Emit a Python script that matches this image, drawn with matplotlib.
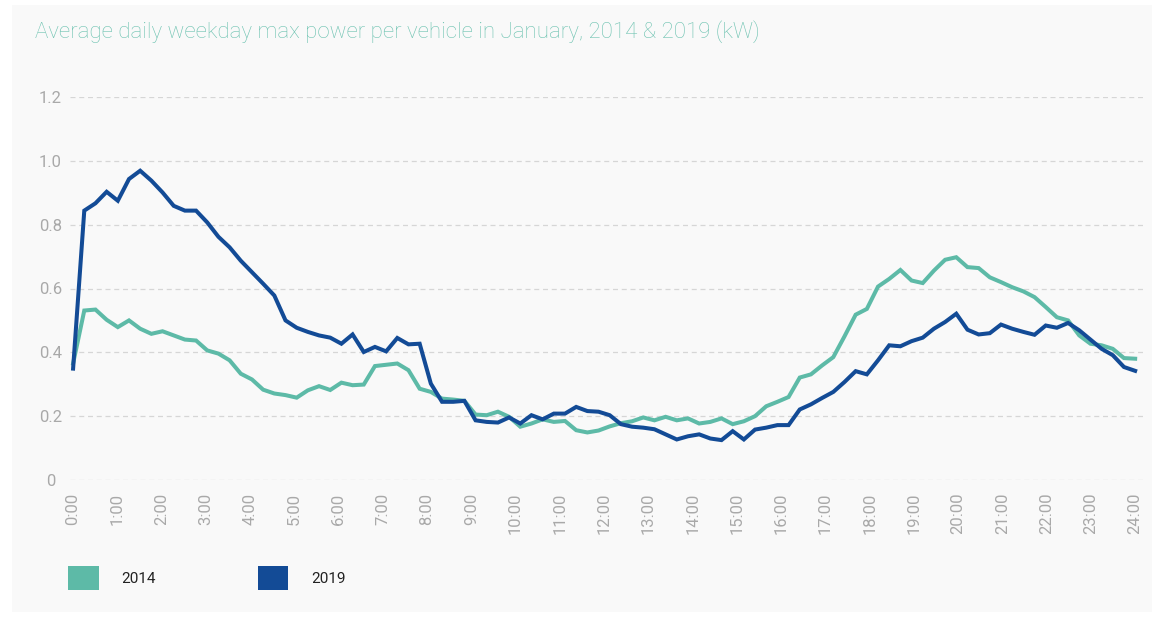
import numpy as np
import matplotlib
matplotlib.use('Agg')
from matplotlib import pyplot as plt
from matplotlib.patches import Patch, Rectangle

title = 'Average daily weekday max power per vehicle in January, 2014 & 2019 (kW)'
hour_labels = ['%d:00' % h for h in range(25)]
y_ticks = [0, 0.2, 0.4, 0.6, 0.8, 1.0, 1.2]
y_tick_labels = ['0', '0.2', '0.4', '0.6', '0.8', '1.0', '1.2']

# 96 readings across the day
kw_2014 = [
    0.365, 0.531, 0.534, 0.502, 0.479, 0.500, 0.474, 0.458, 0.466, 0.453,
    0.440, 0.437, 0.406, 0.396, 0.375, 0.333, 0.315, 0.283, 0.271, 0.266,
    0.258, 0.281, 0.294, 0.282, 0.305, 0.297, 0.299, 0.357, 0.361, 0.365,
    0.344, 0.286, 0.276, 0.255, 0.252, 0.248, 0.205, 0.203, 0.214, 0.198,
    0.167, 0.177, 0.190, 0.182, 0.185, 0.156, 0.149, 0.155, 0.168, 0.178,
    0.184, 0.196, 0.187, 0.198, 0.187, 0.193, 0.177, 0.182, 0.193, 0.175,
    0.184, 0.200, 0.231, 0.245, 0.260, 0.321, 0.331, 0.359, 0.385, 0.450,
    0.518, 0.536, 0.606, 0.630, 0.658, 0.625, 0.617, 0.656, 0.690, 0.698,
    0.667, 0.664, 0.635, 0.620, 0.604, 0.591, 0.573, 0.542, 0.510, 0.500,
    0.453, 0.427, 0.422, 0.411, 0.382, 0.380,
]
kw_2019 = [
    0.349, 0.844, 0.867, 0.903, 0.875, 0.943, 0.969, 0.938, 0.901, 0.859,
    0.844, 0.844, 0.807, 0.762, 0.729, 0.687, 0.651, 0.615, 0.578, 0.500,
    0.477, 0.464, 0.453, 0.446, 0.427, 0.456, 0.401, 0.417, 0.403, 0.445,
    0.425, 0.427, 0.302, 0.245, 0.245, 0.248, 0.187, 0.182, 0.180, 0.196,
    0.177, 0.203, 0.190, 0.208, 0.208, 0.229, 0.216, 0.214, 0.203, 0.175,
    0.167, 0.164, 0.159, 0.143, 0.127, 0.137, 0.143, 0.130, 0.125, 0.153,
    0.127, 0.158, 0.164, 0.172, 0.172, 0.221, 0.237, 0.257, 0.276, 0.307,
    0.341, 0.331, 0.375, 0.422, 0.419, 0.435, 0.446, 0.474, 0.495, 0.521,
    0.471, 0.456, 0.460, 0.487, 0.474, 0.464, 0.455, 0.484, 0.477, 0.492,
    0.469, 0.440, 0.411, 0.391, 0.354, 0.342,
]

green = '#5dbaa7'
blue = '#134b96'
grey = '#a9a9a9'

fig = plt.figure(figsize=(11.57, 6.17), dpi=100, facecolor='white')
fig.add_artist(Rectangle((12/1157, 5/617), 1140/1157, 607/617, transform=fig.transFigure,
                         facecolor='#f9f9f9', edgecolor='none', zorder=-10))

ax = fig.add_axes([70/1157, (617-480)/617, 1074/1157, 383/617])
ax.set_facecolor('none')

x = np.linspace(0, 24, len(kw_2014))
ax.plot(x, kw_2014, color=green, linewidth=2.9, solid_joinstyle='miter', zorder=3)
ax.plot(x, kw_2019, color=blue, linewidth=2.9, solid_joinstyle='miter', zorder=4)

ax.set_xlim(-0.07, 24.2)
ax.set_ylim(0, 1.2)
ax.set_yticks(y_ticks)
ax.set_yticklabels(y_tick_labels)
ax.set_xticks(range(25))
ax.set_xticklabels(hour_labels, rotation=90)

for s in ax.spines.values():
    s.set_visible(False)
ax.tick_params(length=0)
ax.tick_params(axis='y', pad=14, labelsize=12, labelcolor=grey)
ax.tick_params(axis='x', pad=9, labelsize=12, labelcolor=grey)
for t in ax.get_yticklabels():
    t.set_horizontalalignment('center')
    t.set_fontfamily('Roboto')
for t in ax.get_xticklabels():
    t.set_fontfamily('Roboto')
ax.grid(axis='y', color='#d6d6d6', linestyle=(0, (4, 3)), linewidth=0.9, zorder=0)
ax.grid(axis='x', visible=False)

fig.text(35/1157, 1 - 32/617, title, color='#6cc2b0', fontsize=16,
         family='Roboto', fontweight='light', va='center', ha='left')

handles = [Patch(facecolor=green, edgecolor='none'), Patch(facecolor=blue, edgecolor='none')]
fig.legend(handles, ['2014', '2019'], ncol=2, frameon=False,
           loc='center left', bbox_to_anchor=(68/1157, 1 - 578/617),
           handlelength=2.0, handleheight=2.0, handletextpad=1.5, columnspacing=6.65,
           borderpad=0, borderaxespad=0,
           prop={'family': 'Roboto', 'size': 11})
for t in fig.legends[0].get_texts():
    t.set_color('#222222')

fig.savefig('out.png', dpi=100, facecolor='white')
